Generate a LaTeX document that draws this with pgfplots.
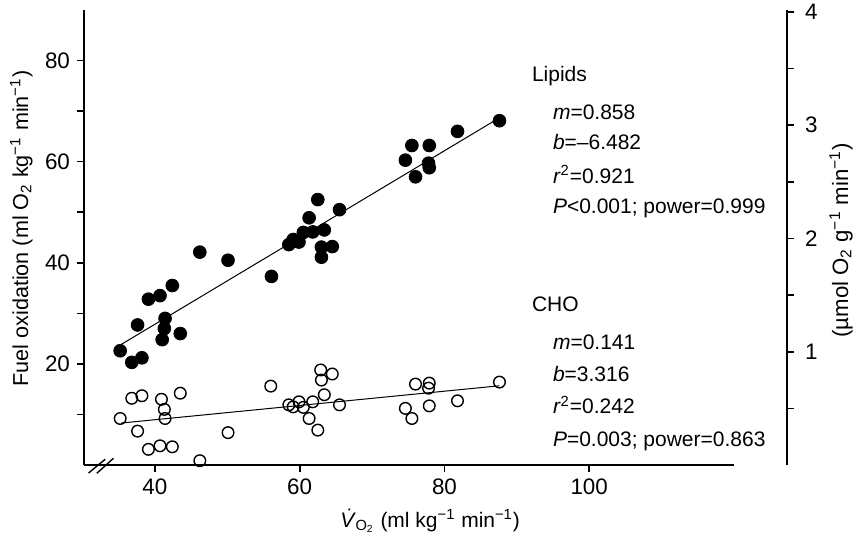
\documentclass[border=0pt]{standalone}
\usepackage{fontspec}
\setmainfont{Liberation Sans}
\usepackage{pgfplots}
\pgfplotsset{compat=1.18}
\begin{document}
\begin{tikzpicture}[x=1pt,y=1pt]
\useasboundingbox (-42,-35) rectangle (386,232.5);
\begin{axis}[
  at={(0,0)}, anchor=south west,
  scale only axis, width=325pt, height=227.5pt,
  xmin=30.2, xmax=120, ymin=0, ymax=90,
  axis x line=bottom, axis y line=left,
  axis line style={-, line width=1pt},
  xtick={40,60,80,100}, ytick={20,40,60,80}, minor ytick={10,30,50,70},
  tick align=outside, major tick length=3.5pt, minor tick length=3.5pt,
  tick style={black, line width=0.8pt},
  ticklabel style={font=\fontsize{11.2}{13}\selectfont},
  /pgf/number format/assume math mode=true,
  clip=false,
]
\addplot[only marks, mark=*, mark size=3.2pt, black] coordinates {
(35.2,22.6) (36.8,20.3) (38.2,21.2) (37.6,27.7) (39.1,32.8) (40.7,33.5)
(42.4,35.5) (41.4,29.0) (41.3,27.0) (41.0,24.8) (43.5,26.0) (46.2,42.1)
(50.1,40.5) (56.1,37.3) (58.5,43.6) (59.1,44.6) (59.9,44.1) (60.5,46.0)
(61.8,46.1) (61.3,48.9) (62.5,52.5) (63.4,46.5) (63.0,43.1) (63.0,41.1)
(64.5,43.2) (65.5,50.5) (74.6,60.3) (75.5,63.2) (76.0,57.0) (77.8,59.7)
(77.9,58.8) (77.9,63.2) (81.8,66.0) (87.6,68.1)
};
\addplot[only marks, mark=o, mark size=2.9pt, black, mark options={line width=0.7pt}] coordinates {
(35.2,9.2) (36.8,13.2) (38.2,13.7) (37.6,6.7) (39.1,3.1) (40.7,3.8)
(42.4,3.6) (40.9,13.0) (41.3,11.0) (41.4,9.2) (43.5,14.2) (46.2,0.85)
(50.1,6.4) (56.0,15.6) (58.5,11.9) (59.1,11.5) (59.9,12.5) (60.5,11.4)
(61.8,12.5) (61.3,9.2) (62.5,6.9) (62.9,18.8) (63.0,16.8) (64.5,18.0)
(63.4,13.9) (65.5,11.9) (74.6,11.2) (75.5,9.2) (76.0,16.0) (77.8,15.2)
(77.9,16.2) (77.9,11.7) (81.8,12.7) (87.6,16.4)
};
\addplot[black, line width=0.5pt] coordinates {(35.3,23.81) (87.6,68.68)};
\addplot[black, line width=0.5pt] coordinates {(35.3,8.29) (87.6,15.67)};
\draw[line width=0.7pt] (axis cs:30.83,-1.58) -- (axis cs:33.13,1.13);
\draw[line width=0.7pt] (axis cs:31.97,-1.64) -- (axis cs:34.28,1.33);
\end{axis}
\begin{axis}[
  at={(0,0)}, anchor=south west,
  scale only axis, width=351.5pt, height=227.5pt,
  xmin=0, xmax=1, ymin=0, ymax=4.018,
  axis x line=none, axis y line=right,
  axis line style={-, line width=1pt},
  ytick={1,2,3,4}, minor ytick={0.5,1.5,2.5,3.5},
  tick align=outside, major tick length=3.5pt, minor tick length=3.5pt,
  tick style={black, line width=0.8pt},
  ticklabel style={font=\fontsize{11.2}{13}\selectfont},
  yticklabel style={xshift=2pt},
  /pgf/number format/assume math mode=true,
]
\end{axis}
\begin{scope}[every node/.style={font=\fontsize{10.5}{12}\selectfont, inner sep=0pt}]
\node[anchor=base west] at (223.8,191.7) {Lipids};
\node[anchor=base west] at (234.3,172.5) {\textit{m}=0.858};
\node[anchor=base west] at (234.3,157.8) {\textit{b}=–6.482};
\node[anchor=base west] at (234.3,140.8) {\textit{r}\textsuperscript{2}=0.921};
\node[anchor=base west] at (234.3,125.8) {\textit{P}<0.001; power=0.999};
\node[anchor=base west] at (223.8,76.7) {CHO};
\node[anchor=base west] at (234.3,57.8) {\textit{m}=0.141};
\node[anchor=base west] at (234.3,41.7) {\textit{b}=3.316};
\node[anchor=base west] at (234.3,25.5) {\textit{r}\textsuperscript{2}=0.242};
\node[anchor=base west] at (234.3,9.2) {\textit{P}=0.003; power=0.863};
\node[anchor=base west, rotate=90, font=\fontsize{10.8}{12}\selectfont] at (-27.9,39) {Fuel oxidation (ml O\textsubscript{2} kg\textsuperscript{−1} min\textsuperscript{−1})};
\node[anchor=base west, rotate=90, font=\fontsize{11.1}{12}\selectfont] at (382,63.5) {(µmol O\textsubscript{2} g\textsuperscript{−1} min\textsuperscript{−1})};
\node[anchor=base west] at (128,-31) {\textit{\.{V}}\textsubscript{O\textsubscript{2}} (ml kg\textsuperscript{−1} min\textsuperscript{−1})};
\end{scope}
\end{tikzpicture}
\end{document}
